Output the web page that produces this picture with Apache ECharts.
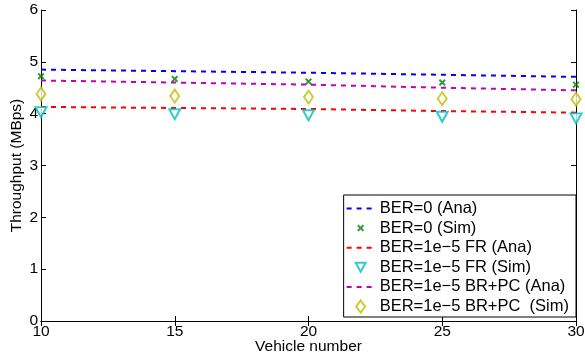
<!DOCTYPE html>
<html>
<head>
<meta charset="utf-8">
<script src="https://cdn.jsdelivr.net/npm/echarts@6/dist/echarts.min.js"></script>
<style>
  html, body { margin: 0; padding: 0; background: #fff; }
  #chart { width: 585px; height: 360px; }
</style>
</head>
<body>
<div id="chart"></div>
<script>
// 数据
var vehicles = [10, 15, 20, 25, 30];
var ber0Ana = [4.85, 4.82, 4.79, 4.75, 4.71];
var ber0Sim = [4.72, 4.67, 4.62, 4.60, 4.56];
var frAna = [4.13, 4.11, 4.09, 4.05, 4.02];
var frSim = [4.03, 3.99, 3.97, 3.94, 3.91];
var brpcAna = [4.64, 4.60, 4.56, 4.50, 4.45];
var brpcSim = [4.38, 4.34, 4.32, 4.29, 4.28];
var yTicks = [0, 1, 2, 3, 4, 5, 6];

function pairs(arr) {
  return vehicles.map(function (v, i) { return [v, arr[i]]; });
}

var font = "Liberation Sans, Arial, sans-serif";
var crossPath = "path://M0,2L2,0L5,3L8,0L10,2L7,5L10,8L8,10L5,7L2,10L0,8L3,5Z";
// 图例图标 (28x14 box)
var box = "M0,0M28,14";
var legendCross = "path://" + box + "M10.5,4.9L11.9,3.5L14,5.6L16.1,3.5L17.5,4.9L15.4,7L17.5,9.1L16.1,10.5L14,8.4L11.9,10.5L10.5,9.1L12.6,7Z";
var legendTri = "path://" + box + "M9,2.5L19,2.5L14,11.5Z";
var legendDia = "path://" + box + "M14,1L18.5,7L14,13L9.5,7Z";

var names = [
  "BER=0 (Ana)", "BER=0 (Sim)",
  "BER=1e\u22125 FR (Ana)", "BER=1e\u22125 FR (Sim)",
  "BER=1e\u22125 BR+PC (Ana)", "BER=1e\u22125 BR+PC  (Sim)"
];

function anaLine(name, color, data) {
  return {
    name: name,
    type: "line",
    symbol: "none",
    data: pairs(data),
    lineStyle: { color: color, width: 2, type: [5, 5] },
    itemStyle: { color: color },
    z: 2
  };
}

var myChart = echarts.init(document.getElementById("chart"));
var option = {
  animation: false,
  textStyle: { fontFamily: font },
  grid: { left: 41, top: 10, right: 9, bottom: 39, outerBoundsMode: "none", containLabel: false },
  legend: {
    orient: "vertical",
    right: 9,
    top: 195,
    backgroundColor: "#fff",
    borderColor: "#000",
    borderWidth: 1,
    padding: [5, 7, 2, 2],
    itemWidth: 28,
    itemHeight: 14,
    itemGap: 2.6,
    textStyle: { fontSize: 16.5, color: "#000", fontFamily: font },
    data: [
      { name: names[0], itemStyle: { opacity: 0 } },
      { name: names[1], icon: legendCross },
      { name: names[2], itemStyle: { opacity: 0 } },
      { name: names[3], icon: legendTri },
      { name: names[4], itemStyle: { opacity: 0 } },
      { name: names[5], icon: legendDia }
    ]
  },
  xAxis: [{
    type: "value",
    min: 10, max: 30, interval: 5,
    name: "Vehicle number",
    nameLocation: "middle",
    nameGap: 18,
    nameMoveOverlap: false,
    nameTextStyle: { fontSize: 15.5, color: "#000" },
    axisLine: { lineStyle: { color: "#000", width: 1 } },
    axisTick: { inside: true, length: 5, lineStyle: { color: "#000" } },
    axisLabel: { fontSize: 15.5, color: "#000", margin: 3 },
    splitLine: { show: false }
  }, {
    type: "value",
    position: "top",
    min: 10, max: 30, interval: 5,
    axisLine: { lineStyle: { color: "#000", width: 1 } },
    axisTick: { inside: true, length: 5, lineStyle: { color: "#000" } },
    axisLabel: { show: false },
    splitLine: { show: false }
  }],
  yAxis: [{
    type: "value",
    min: yTicks[0], max: yTicks[yTicks.length - 1], interval: 1,
    name: "Throughput (MBps)",
    nameLocation: "middle",
    nameGap: 16,
    nameMoveOverlap: false,
    nameTextStyle: { fontSize: 15.5, color: "#000" },
    axisLine: { show: true, lineStyle: { color: "#000", width: 1 } },
    axisTick: { show: true, inside: true, length: 5, lineStyle: { color: "#000" } },
    axisLabel: { fontSize: 15.5, color: "#000", margin: 3 },
    splitLine: { show: false }
  }, {
    type: "value",
    position: "right",
    min: yTicks[0], max: yTicks[yTicks.length - 1], interval: 1,
    axisLine: { show: true, lineStyle: { color: "#000", width: 1 } },
    axisTick: { show: true, inside: true, length: 5, lineStyle: { color: "#000" } },
    axisLabel: { show: false },
    splitLine: { show: false }
  }],
  series: [
    anaLine(names[0], "#0000ff", ber0Ana),
    {
      name: names[1],
      type: "scatter",
      symbol: crossPath,
      symbolSize: 7,
      data: pairs(ber0Sim),
      itemStyle: { color: "#008000" },
      z: 3
    },
    anaLine(names[2], "#ff0000", frAna),
    {
      name: names[3],
      type: "scatter",
      symbol: "triangle",
      symbolRotate: 180,
      symbolSize: [11, 10],
      data: pairs(frSim),
      itemStyle: { color: "#fff", borderColor: "#00bfbf", borderWidth: 2 },
      z: 3
    },
    anaLine(names[4], "#bf00bf", brpcAna),
    {
      name: names[5],
      type: "scatter",
      symbol: "diamond",
      symbolSize: [9, 13],
      data: pairs(brpcSim),
      itemStyle: { color: "#fff", borderColor: "#bfbf00", borderWidth: 2 },
      z: 3
    }
  ]
};

myChart.setOption(option);
window.addEventListener("resize", function () {
  myChart.resize();
});
</script>
</body>
</html>
